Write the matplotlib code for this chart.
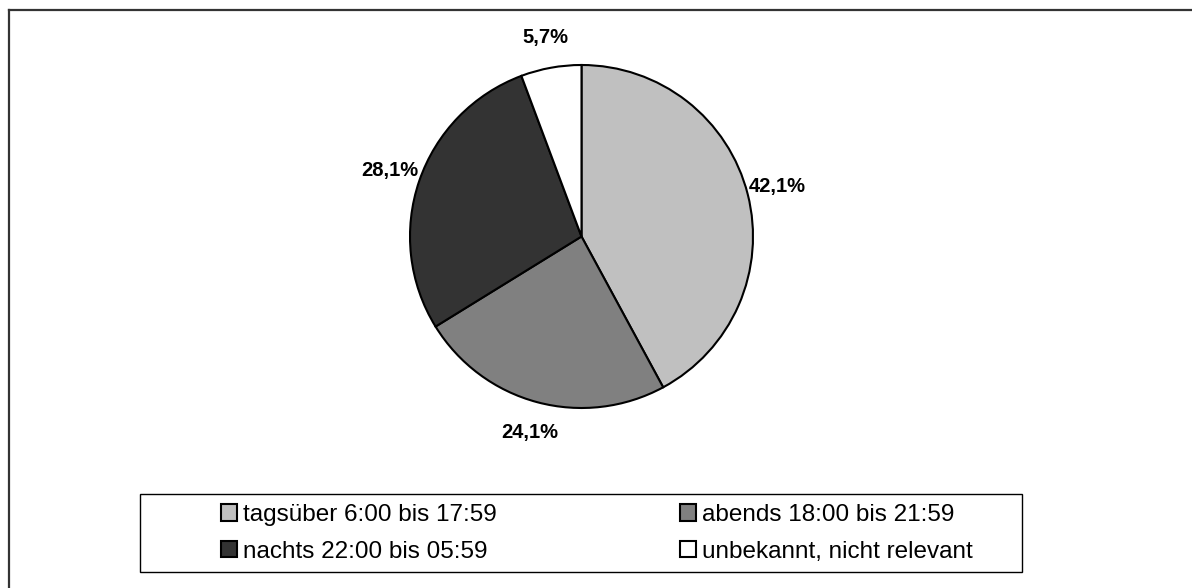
import matplotlib
matplotlib.use('Agg')
import matplotlib.pyplot as plt
from matplotlib.patches import Rectangle
from matplotlib.lines import Line2D

plt.rcParams['font.family'] = ['Liberation Sans', 'DejaVu Sans']

# Daten
kategorien = ['tagsüber 6:00 bis 17:59', 'abends 18:00 bis 21:59',
              'nachts 22:00 bis 05:59', 'unbekannt, nicht relevant']
anteile = [42.1, 24.1, 28.1, 5.7]
farben = ['#C0C0C0', '#808080', '#333333', '#FFFFFF']

W, H = 1192, 588
fig = plt.figure(figsize=(W / 100, H / 100), dpi=100)

# Kreis: Mitte (581.5, 236.5) px, Radius 171.5 px
cx, cy, r = 581.5, 236.5, 171.5
ax = fig.add_axes([(cx - r) / W, (H - cy - r) / H, 2 * r / W, 2 * r / H])

def fmt(p):
    return f'{p:.1f}%'.replace('.', ',')

wedges, texts, autotexts = ax.pie(
    anteile, colors=farben, startangle=90, counterclock=False,
    autopct=fmt, pctdistance=1.18,
    wedgeprops=dict(edgecolor='black', linewidth=1.5),
    textprops=dict(fontsize=14.5, fontweight='bold', color='black'))
ax.set_xlim(-1, 1)
ax.set_ylim(-1, 1)

# Legende, zeilenweise angeordnet
reihenfolge = [0, 2, 1, 3]
x0, x1 = 221, 973
yl = (515 + 552) / 2
fig.legend([wedges[i] for i in reihenfolge], [kategorien[i] for i in reihenfolge],
           ncol=2, loc='center', bbox_to_anchor=(x0 / W, 1 - yl / H, (x1 - x0) / W, 0),
           mode='expand', frameon=False, fontsize=17.5,
           handlelength=0.66, handleheight=0.66, handletextpad=0.25,
           borderpad=0, borderaxespad=0, labelspacing=0.6)

# Rahmen der Legende
fig.add_artist(Rectangle((140 / W, 1 - 572 / H), 882 / W, 78 / H,
                         transform=fig.transFigure, fill=False,
                         edgecolor='black', linewidth=1.0))

# Rahmen des Diagrammbereichs (oben und links)
fig.add_artist(Line2D([8.5 / W, 1], [1 - 9.5 / H, 1 - 9.5 / H],
                      transform=fig.transFigure, color='#333333', linewidth=1.6))
fig.add_artist(Line2D([8.5 / W, 8.5 / W], [0, 1 - 9.5 / H],
                      transform=fig.transFigure, color='#333333', linewidth=1.6))

fig.savefig('out.png', dpi=100)
